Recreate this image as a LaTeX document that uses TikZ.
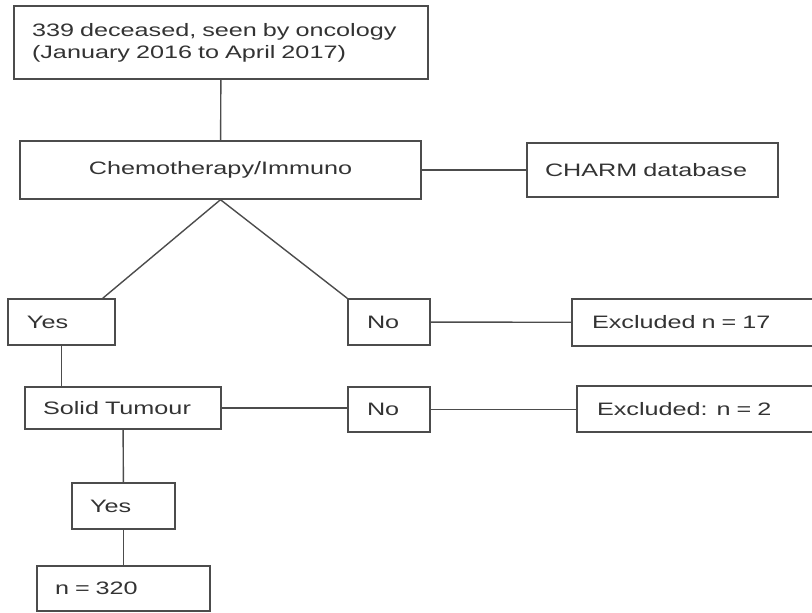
\documentclass[tikz,border=0pt]{standalone}
\usepackage{fontspec}
\setmainfont{Liberation Sans}[FakeStretch=1.4]
\usepackage{tikz}

\begin{document}
\begin{tikzpicture}[x=1pt,y=-1pt,
  box/.style={draw=black!70, line width=1.4pt, text=black!80, align=left,
    inner xsep=18pt, inner ysep=0pt, font=\fontsize{18}{22}\selectfont},
  link/.style={draw=black!70, line width=1.4pt}]
\clip (0,0) rectangle (812,613);
\node[box, text width=378pt, minimum height=73pt] (deceased) at (221,42.5) {339 deceased, seen by oncology\\(January 2016 to April 2017)};
\node[box, text width=365pt, minimum height=58pt, align=center] (chemo) at (220.5,170) {Chemotherapy/Immuno};
\node[box, text width=215pt, minimum height=54pt] (charm) at (652.5,170) {CHARM database};
\node[box, text width=69pt, minimum height=46pt, inner xsep=19pt] (yesA) at (61.5,322) {Yes};
\node[box, text width=44pt, minimum height=46pt, inner xsep=19pt] (noA) at (389,322) {No};
\node[box, text width=218pt, minimum height=47pt, inner xsep=20pt] (exclA) at (701,322.5) {Excluded n = 17};
\node[box, text width=160pt, minimum height=42pt] (solid) at (123,408) {Solid Tumour};
\node[box, text width=44pt, minimum height=45pt, inner xsep=19pt] (noB) at (389,409.5) {No};
\node[box, text width=213pt, minimum height=46pt, inner xsep=20pt] (exclB) at (703.5,409) {Excluded: n = 2};
\node[box, text width=67pt, minimum height=46pt] (yesB) at (123.5,506) {Yes};
\node[box, text width=137pt, minimum height=45pt] (total) at (123.5,588.5) {n = 320};

\draw[link] (deceased) -- (chemo);
\draw[link] (chemo) -- (charm);
\draw[link] (chemo.south) -- ([xshift=-13pt]yesA.north east);
\draw[link] (chemo.south) -- (noA.north west);
\draw[link] (yesA.south) -- (yesA.south |- solid.north);
\draw[link] (noA) -- (exclA);
\draw[link] (solid.east) -- (solid.east -| noB.west);
\draw[link] (noB.east) -- (noB.east -| exclB.west);
\draw[link] (solid) -- (yesB);
\draw[link] (yesB) -- (total);
\end{tikzpicture}
\end{document}
